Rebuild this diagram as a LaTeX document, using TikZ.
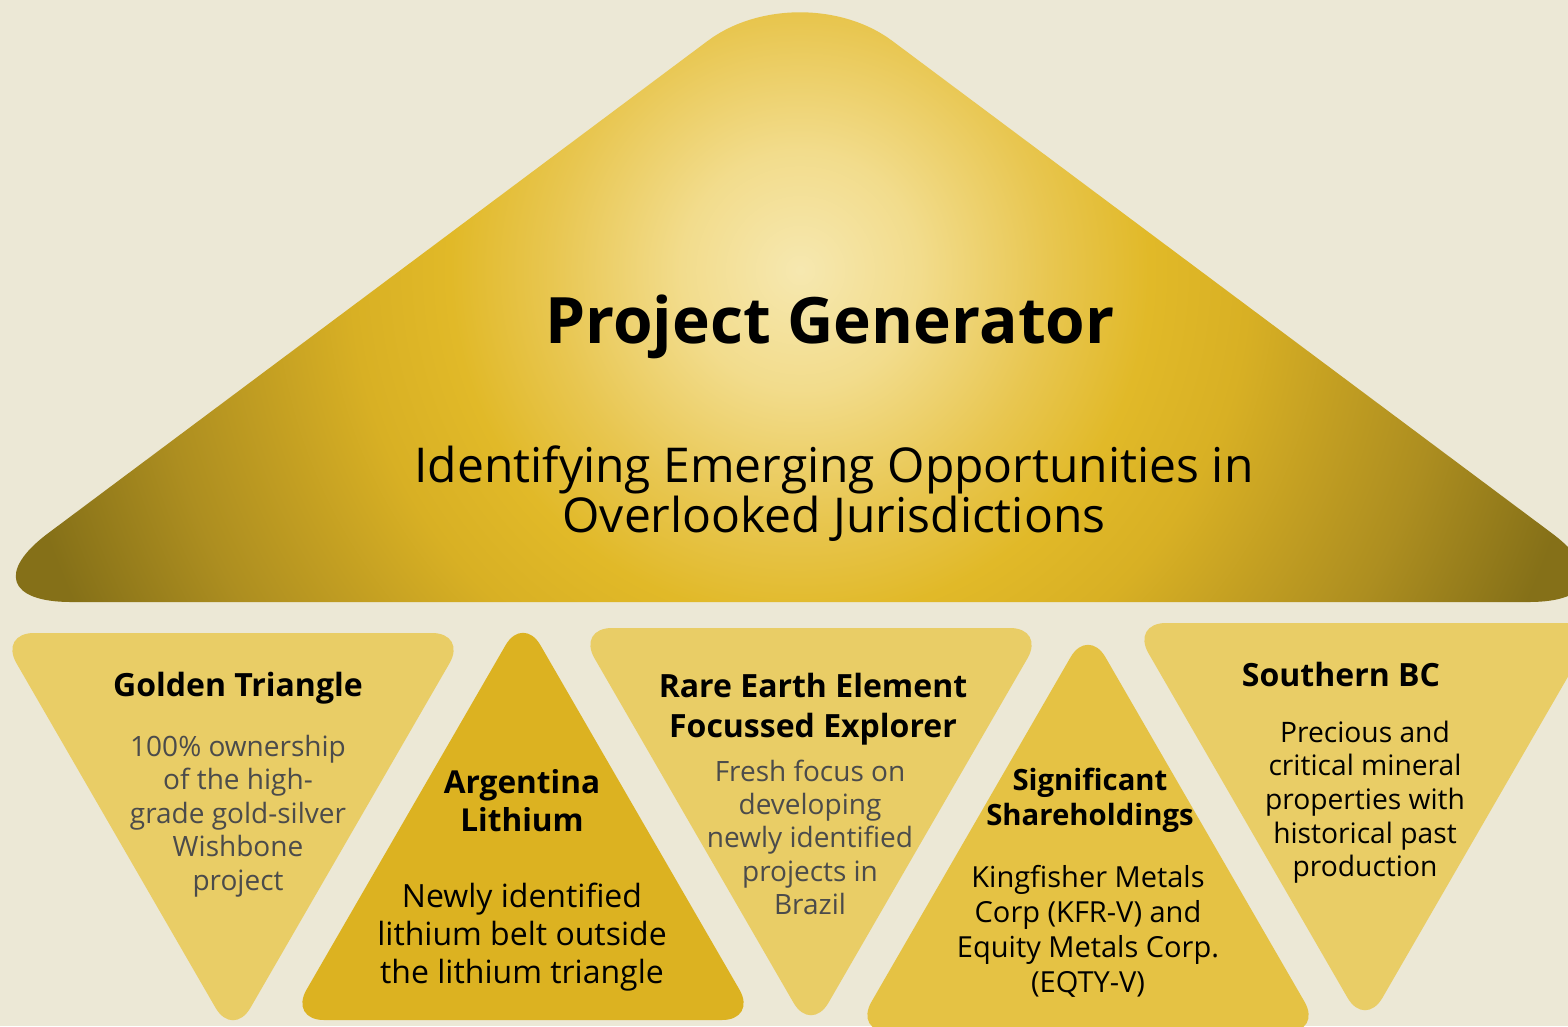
\documentclass[tikz,border=0pt]{standalone}
\usepackage{fontspec}
\setmainfont{Open Sans}
\definecolor{bgc}{HTML}{ECE8D6}
\definecolor{lightgold}{HTML}{E9CD66}
\definecolor{deepgold}{HTML}{DCB221}
\definecolor{midgold}{HTML}{E5C244}
\definecolor{graytext}{HTML}{4B4B4B}
\definecolor{g0}{HTML}{F6E8B0}
\definecolor{g1}{HTML}{F2DC8C}
\definecolor{g2}{HTML}{E8C650}
\definecolor{g3}{HTML}{E1B928}
\definecolor{g4}{HTML}{D8B024}
\definecolor{g5}{HTML}{C29E22}
\definecolor{g6}{HTML}{AD8E20}
\definecolor{g7}{HTML}{857018}
\pgfdeclareradialshading{goldrad}{\pgfpoint{0bp}{0bp}}{color(0bp)=(g0); color(3.5bp)=(g1); color(7.35bp)=(g2); color(10.3bp)=(g3); color(13.2bp)=(g4); color(16.2bp)=(g5); color(19.1bp)=(g6); color(23.5bp)=(g7); color(50bp)=(g7)}
\newcommand{\mystrut}{\rule{0pt}{0.8em}}
\tikzset{
  tri/.style={rounded corners=35pt},
  ttl/.style={inner sep=0pt, anchor=north, align=center, text=black},
  bodytxt/.style={inner sep=0pt, anchor=north, align=center, text=black},
}
\begin{document}
\begin{tikzpicture}[x=1pt,y=-1pt]
\useasboundingbox (0,0) rectangle (1568,1026);
\fill[bgc] (0,0) rectangle (1568,1026);
\begin{scope}
\clip (0,0) rectangle (1568,1026);
\begin{scope}
\clip[rounded corners=115pt] (-44,602) -- (1644,602) -- (800,-28) -- cycle;
\shade[shading=goldrad] (800,270) circle[radius=850pt];
\end{scope}
% lower triangles
\fill[lightgold, tri] (-1,633) -- (467,633) -- (233,1038) -- cycle;
\fill[deepgold, tri] (289,1020) -- (757,1020) -- (523,615) -- cycle;
\fill[lightgold, tri] (577,628) -- (1045,628) -- (811,1033) -- cycle;
\fill[midgold, tri] (854,1032) -- (1322,1032) -- (1088,627) -- cycle;
\fill[lightgold, tri] (1131,623) -- (1599,623) -- (1365,1028) -- cycle;
\end{scope}
% texts
\node[ttl, font=\bfseries\fontsize{64}{70}\selectfont] (pg) at (830,291.8) {\mystrut Project Generator};
\node[bodytxt, font=\fontsize{48}{50}\selectfont] (sub) at (834,443.6) {\mystrut Identifying Emerging Opportunities in\\Overlooked Jurisdictions};

\node[ttl, font=\bfseries\fontsize{32}{38}\selectfont] (gtt) at (238,670.4) {\mystrut Golden Triangle};
\node[bodytxt, text=graytext, font=\fontsize{28}{33.5}\selectfont] (gtb) at (238,733.6) {\mystrut 100\% ownership\\of the high-\\grade gold-silver\\Wishbone\\project};

\node[ttl, font=\bfseries\fontsize{31.6}{38}\selectfont] (alt) at (522,767.7) {\mystrut Argentina\\Lithium};
\node[bodytxt, font=\fontsize{32}{38}\selectfont] (alb) at (522,881.4) {\mystrut Newly identified\\lithium belt outside\\the lithium triangle};

\node[ttl, font=\bfseries\fontsize{32}{40}\selectfont] (ret) at (813,671.4) {\mystrut Rare Earth Element\\Focussed Explorer};
\node[bodytxt, text=graytext, font=\fontsize{28}{33.3}\selectfont] (reb) at (810,758.6) {\mystrut Fresh focus on\\developing\\newly identified\\projects in\\Brazil};

\node[ttl, font=\bfseries\fontsize{29.3}{35}\selectfont] (sst) at (1090,766.6) {\mystrut Significant\\Shareholdings};
\node[bodytxt, font=\fontsize{29}{35}\selectfont] (ssb) at (1088,863.8) {\mystrut Kingfisher Metals\\Corp (KFR-V) and\\Equity Metals Corp.\\(EQTY-V)};

\node[ttl, font=\bfseries\fontsize{32}{38}\selectfont] (sbt) at (1341,660.4) {\mystrut Southern BC};
\node[bodytxt, font=\fontsize{28.2}{33.7}\selectfont] (sbb) at (1365,719.4) {\mystrut Precious and\\critical mineral\\properties with\\historical past\\production};
\end{tikzpicture}
\end{document}
